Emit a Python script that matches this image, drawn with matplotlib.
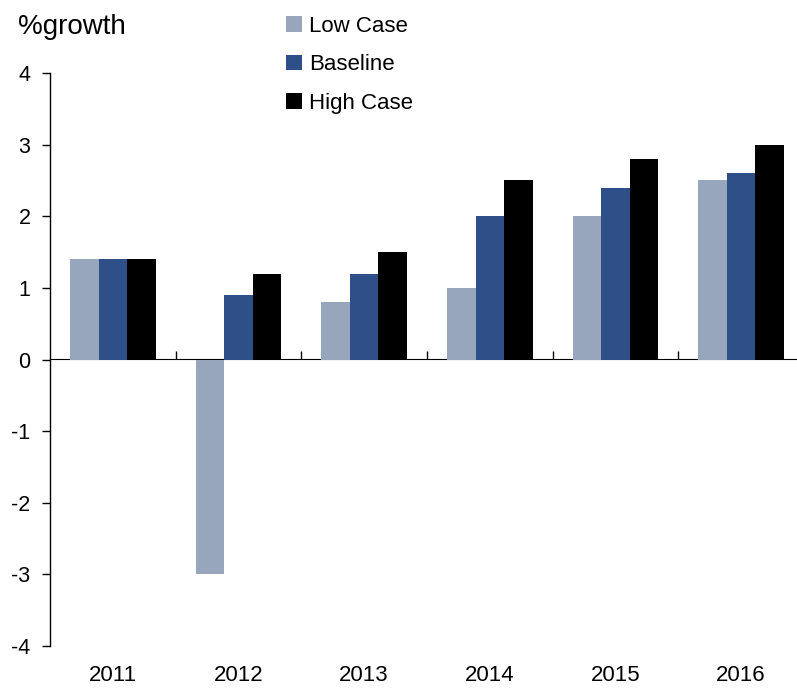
import numpy as np
import matplotlib.pyplot as plt
from matplotlib.ticker import FixedLocator, NullFormatter

plt.rcParams['font.family'] = ['Liberation Sans', 'DejaVu Sans']
plt.rcParams['axes.unicode_minus'] = False

years = ['2011', '2012', '2013', '2014', '2015', '2016']
low_case = [1.4, -3.0, 0.8, 1.0, 2.0, 2.5]
baseline = [1.4, 0.9, 1.2, 2.0, 2.4, 2.6]
high_case = [1.4, 1.2, 1.5, 2.5, 2.8, 3.0]

series = [('Low Case', low_case, '#97a6bd'),
          ('Baseline', baseline, '#2e4f88'),
          ('High Case', high_case, '#000000')]

W, H = 797, 689
fig = plt.figure(figsize=(W / 100, H / 100), dpi=100)
ax = fig.add_axes([50 / W, (H - 646) / H, (804 - 50) / W, (646 - 73) / H])

x = np.arange(len(years))
bw = 0.228
for i, (name, vals, col) in enumerate(series):
    ax.bar(x + (i - 1) * bw, vals, width=bw, color=col, label=name)

ax.set_xlim(-0.5, len(years) - 0.5)
ax.set_ylim(-4, 4)
ax.set_yticks(range(-4, 5))
ax.tick_params(axis='y', direction='out', length=6, width=1, labelsize=15.5, pad=8)

# category labels along the bottom, no ticks
ax.set_xticks(x)
ax.set_xticklabels(years)
ax.tick_params(axis='x', length=0, labelsize=16, pad=14)

for s in ['top', 'right', 'bottom']:
    ax.spines[s].set_visible(False)
ax.spines['left'].set_linewidth(1)

# zero line with boundary ticks
sec = ax.secondary_xaxis(0.5)
sec.xaxis.set_major_locator(FixedLocator(np.arange(0.5, len(years), 1.0)))
sec.xaxis.set_major_formatter(NullFormatter())
sec.tick_params(direction='out', length=6, width=1)
sec.spines['bottom'].set_linewidth(1)

fig.text(18 / W, 1 - 27 / H, '%growth', fontsize=20, va='center', ha='left')

fig.legend(loc='upper left', bbox_to_anchor=(286 / W, 1 - 16 / H), frameon=False,
           fontsize=16, handlelength=0.72, handleheight=0.72,
           labelspacing=0.78, handletextpad=0.3, borderpad=0, borderaxespad=0)

fig.savefig('out.png', dpi=100)
